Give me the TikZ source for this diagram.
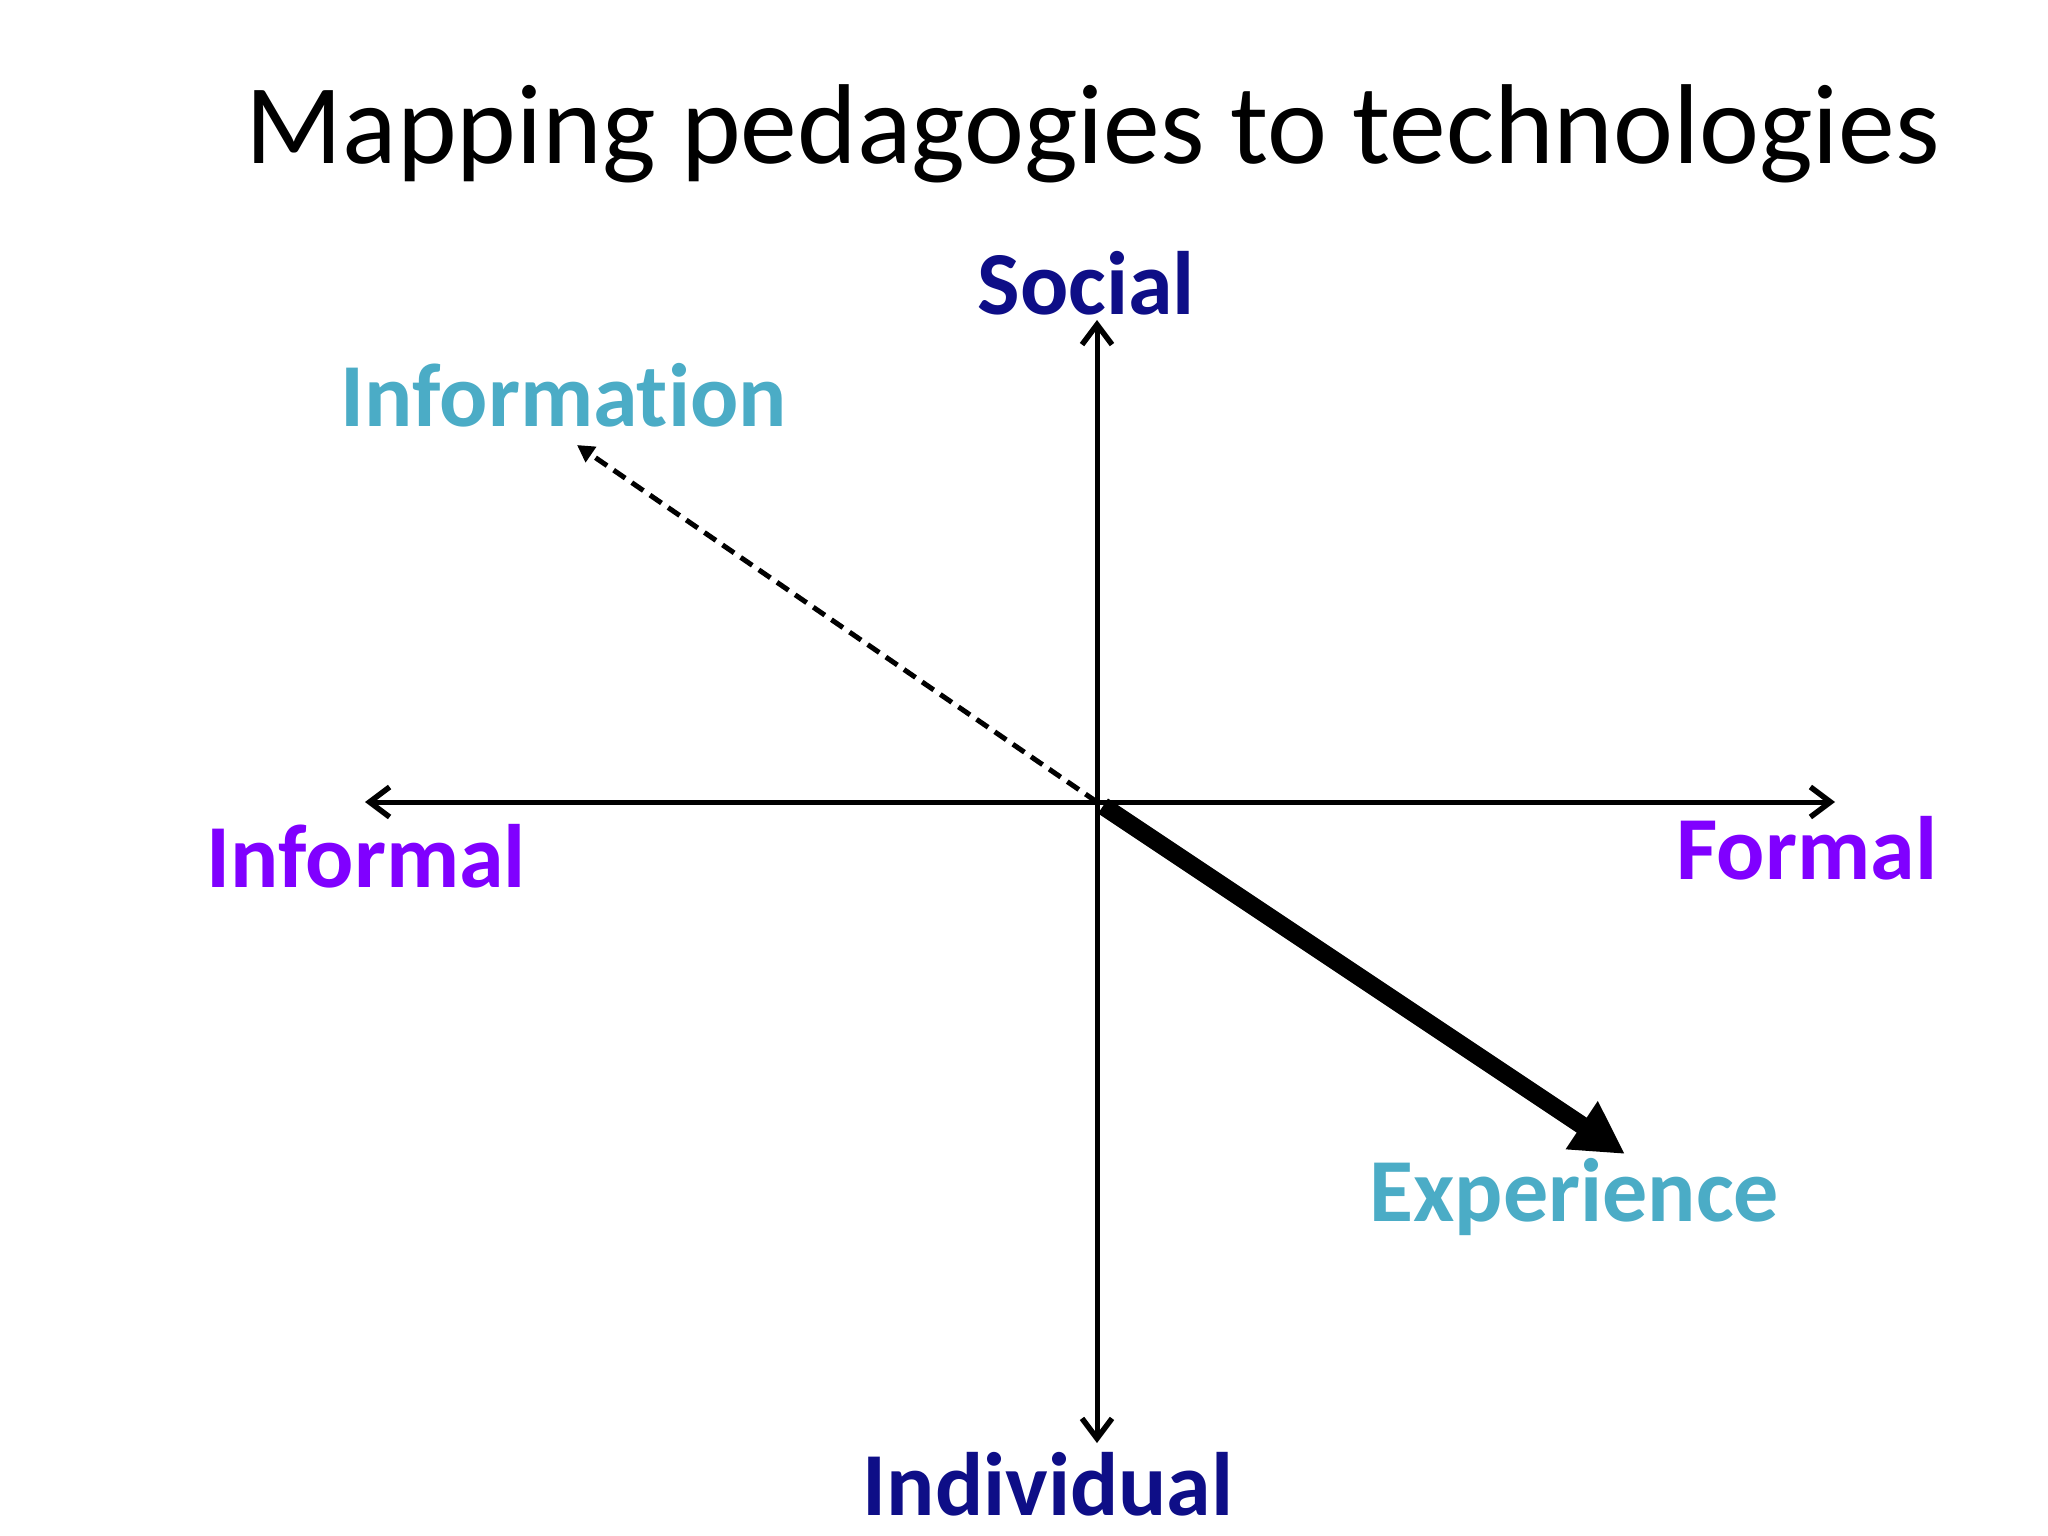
\documentclass[tikz,border=0pt]{standalone}
\usepackage{fontspec}
\setmainfont{Carlito}[Ligatures=NoCommon]
\usetikzlibrary{arrows.meta}
\definecolor{navyc}{RGB}{14,14,135}
\definecolor{aquac}{RGB}{75,172,198}
\definecolor{purplec}{RGB}{128,0,255}
\tikzset{
  barb/.tip={Straight Barb[length=0.2cm,width=0.3cm,line width=5.5pt*0.2845]},
  axis/.style={line width=5pt*0.2845, barb-barb, line cap=round},
  lab/.style={font=\fontsize{25.6}{30}\selectfont\bfseries, inner sep=0pt, anchor=base west},
  ttl/.style={font=\fontsize{32.3}{38}\selectfont, inner sep=0pt, anchor=base west},
}
\begin{document}
\begin{tikzpicture}[x=0.01cm,y=-0.01cm]
\useasboundingbox (0,0) rectangle (2048,1536);
\fill[white] (0,0) rectangle (2048,1536);
\node[ttl] (title) at (245,163) {Mapping pedagogies to technologies};
\coordinate (O) at (1097,802);
\coordinate (top) at (1097,320);
\coordinate (bot) at (1097,1443);
\coordinate (left) at (365,802);
\coordinate (right) at (1835,802);
\coordinate (infotip) at (577,445);
\coordinate (expstart) at (1103,806);
\coordinate (exptip) at (1625,1154);
\draw[axis] (bot) -- (top);
\draw[axis] (left) -- (right);
\draw[line width=5pt*0.2845, dash pattern=on 14pt*0.2845 off 8pt*0.2845, -{Triangle[length=0.17cm,width=0.18cm]}] (O) -- (infotip);
\draw[line width=18pt*0.2845, -{Triangle[length=0.52cm,width=0.54cm]}] (expstart) -- (exptip);
\node[lab, text=navyc] (social) at (977,314) {Social};
\node[lab, text=navyc] (individual) at (862,1515) {Individual};
\node[lab, text=aquac] (information) at (340,426) {Information};
\node[lab, text=aquac] (experience) at (1369,1221) {Experience};
\node[lab, text=purplec] (informal) at (206,887) {Informal};
\node[lab, text=purplec] (formal) at (1676,879) {Formal};
\end{tikzpicture}
\end{document}
